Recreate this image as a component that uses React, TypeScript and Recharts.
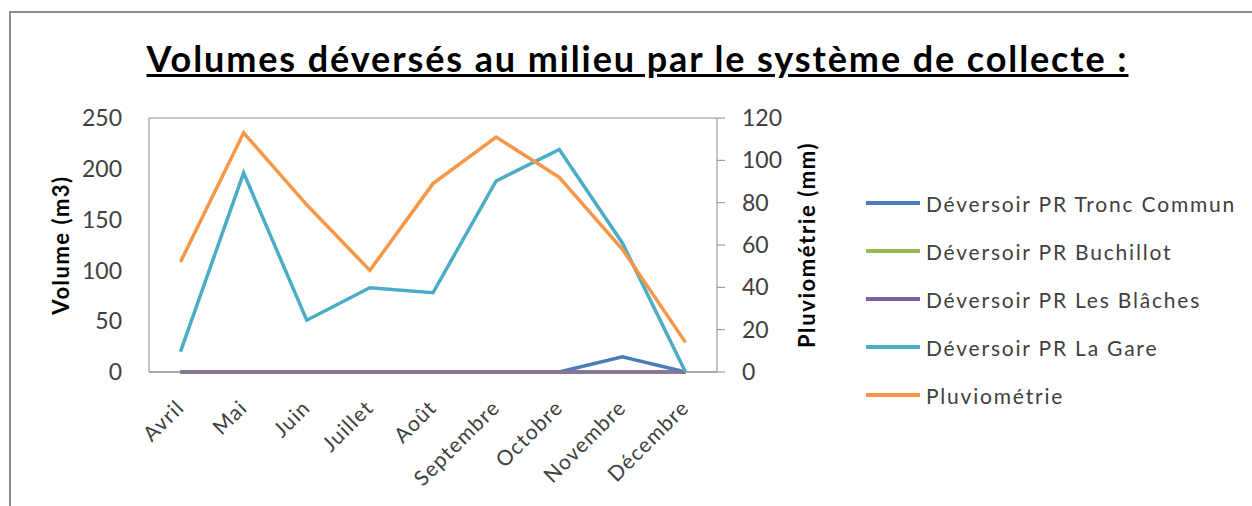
import { LineChart, Line, XAxis, YAxis, CartesianGrid } from 'recharts';

const months = ['Avril', 'Mai', 'Juin', 'Juillet', 'Août', 'Septembre', 'Octobre', 'Novembre', 'Décembre'];
const troncCommun = [0, 0, 0, 0, 0, 0, 0, 15, 0];
const buchillot = [0, 0, 0, 0, 0, 0, 0, 0, 0];
const blaches = [0, 0, 0, 0, 0, 0, 0, 0, 0];
const laGare = [20, 196, 51, 83, 78, 188, 219, 127, 0];
const pluvio = [52, 113, 79, 48, 89, 111, 92, 58, 14];

const volumeTicks = [0, 50, 100, 150, 200, 250];
const pluvioTicks = [0, 20, 40, 60, 80, 100, 120];

const series = [
	{ key: 'tronc', name: 'Déversoir PR Tronc Commun', color: '#4A7EBB', axis: 'left' },
	{ key: 'buchillot', name: 'Déversoir PR Buchillot', color: '#98B954', axis: 'left' },
	{ key: 'blaches', name: 'Déversoir PR Les Blâches', color: '#7D60A0', axis: 'left' },
	{ key: 'gare', name: 'Déversoir PR La Gare', color: '#4BACC6', axis: 'left' },
	{ key: 'pluvio', name: 'Pluviométrie', color: '#F79646', axis: 'right' },
];

const data = months.map((m, i) => ({
	month: m,
	tronc: troncCommun[i],
	buchillot: buchillot[i],
	blaches: blaches[i],
	gare: laGare[i],
	pluvio: pluvio[i],
}));

const font = 'Lato, Carlito, "Open Sans", sans-serif';

const MonthTick = ({ x, y, payload }: any) => (
	<text
		transform={`translate(${x + 5},${y + 37}) rotate(-45)`}
		textAnchor='end'
		fontSize={21}
		letterSpacing={1.2}
		fontFamily={font}
		fill='#404040'>
		{payload.value}
	</text>
);

const LegendList = () => (
	<div
		style={{
			position: 'absolute',
			left: 866,
			top: 179,
			fontFamily: font,
			fontSize: 21,
			letterSpacing: 1.8,
			color: '#404040',
		}}>
		{series.map((s) => (
			<div
				key={s.key}
				style={{ display: 'flex', alignItems: 'center', height: 48 }}>
				<span
					style={{
						display: 'inline-block',
						width: 54,
						height: 4,
						background: s.color,
						marginRight: 6,
					}}
				/>
				{s.name}
			</div>
		))}
	</div>
);

const axisLabelStyle = {
	fontSize: 22,
	fontWeight: 'bold',
	fill: '#000',
	fontFamily: font,
	textAnchor: 'middle',
};

const tickStyle = { fontSize: 23, fill: '#404040', fontFamily: font };

const App = () => {
	return (
		<div
			style={{
				position: 'fixed',
				left: 0,
				top: 0,
				width: 1252,
				height: 506,
				background: '#fff',
			}}>
			<div
				style={{
					position: 'absolute',
					left: 9,
					top: 11,
					width: 1260,
					height: 520,
					border: '2px solid #8c8c8c',
				}}
			/>
			<div
				style={{
					position: 'absolute',
					left: 0,
					width: 1275,
					top: 36,
					textAlign: 'center',
					fontFamily: font,
					fontWeight: 'bold',
					fontSize: 36,
					letterSpacing: 1.9,
					textDecoration: 'underline',
					color: '#000',
				}}>
				Volumes déversés au milieu par le système de collecte :
			</div>
			<div style={{ position: 'absolute', left: 0, top: 0 }}>
				<LineChart
					width={1252}
					height={506}
					data={data}
					margin={{ top: 118, right: 475, left: 89, bottom: 0 }}>
					<CartesianGrid vertical={false} stroke='#8c8c8c' />
					<XAxis
						dataKey='month'
						interval={0}
						padding={{ left: 31.5, right: 31.5 }}
						tick={<MonthTick />}
						tickLine={false}
						tickSize={0}
						tickMargin={0}
						axisLine={{ stroke: '#8c8c8c' }}
						height={134}
					/>
					<YAxis
						yAxisId='left'
						width={60}
						domain={[0, 250]}
						ticks={volumeTicks}
						tick={tickStyle}
						tickLine={false}
						tickSize={0}
						tickMargin={27}
						axisLine={{ stroke: '#8c8c8c' }}
						label={{
							value: 'Volume (m3)',
							angle: -90,
							position: 'insideLeft',
							offset: -28,
							style: { ...axisLabelStyle, letterSpacing: 1.5 },
						}}
					/>
					<YAxis
						yAxisId='right'
						orientation='right'
						width={60}
						domain={[0, 120]}
						ticks={pluvioTicks}
						tick={tickStyle}
						tickSize={8}
						tickMargin={17}
						tickLine={{ stroke: '#8c8c8c' }}
						axisLine={{ stroke: '#8c8c8c' }}
						label={{
							value: 'Pluviométrie (mm)',
							angle: -90,
							position: 'insideRight',
							offset: -30,
							style: { ...axisLabelStyle, letterSpacing: 1.6 },
						}}
					/>
					{series.map((s) => (
						<Line
							key={s.key}
							yAxisId={s.axis}
							dataKey={s.key}
							name={s.name}
							stroke={s.color}
							strokeWidth={3.5}
							dot={false}
							isAnimationActive={false}
						/>
					))}
				</LineChart>
			</div>
			<LegendList />
		</div>
	);
};

export default App;
